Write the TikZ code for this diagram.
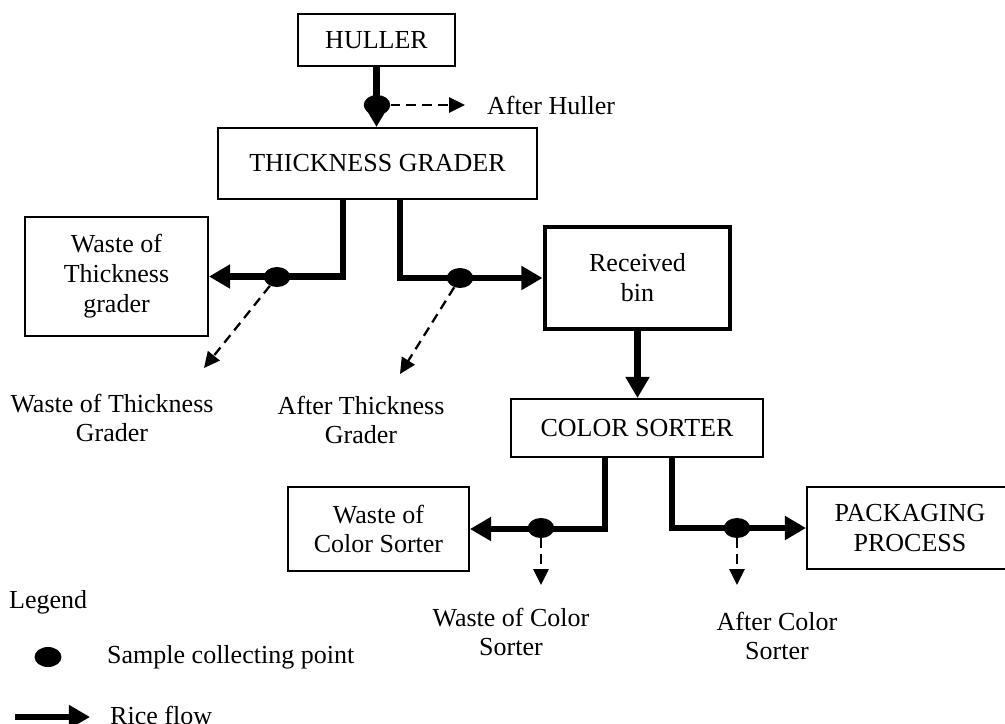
\documentclass[tikz,border=0pt]{standalone}
\usepackage{fontspec}
\setmainfont{Liberation Serif}
\usepackage{tikz}
\usetikzlibrary{shapes.geometric,arrows.meta,positioning,calc}

\begin{document}
\begin{tikzpicture}[x=0.02cm,y=-0.02cm,
  font=\fontsize{14.8}{17}\selectfont,
  unit/.style={draw,line width=1.1pt,align=center,inner sep=2pt},
  flow/.style={line width=3.8pt,-{Triangle[length=12pt,width=13pt]}},
  spot/.style={ellipse,fill,inner sep=0pt,minimum width=0.53cm,minimum height=0.4cm},
  probe/.style={line width=1.3pt,dash pattern=on 5.5pt off 3.5pt,-{Triangle[length=9pt,width=8.5pt]}}]
\useasboundingbox (0,0) rectangle (1005,724);

% process units
\node[unit,minimum width=3.14cm,minimum height=1.04cm] (huller) at (376.5,40) {HULLER};
\node[unit,minimum width=6.38cm,minimum height=1.42cm] (grader) at (377.5,163.5) {THICKNESS GRADER};
\node[unit,minimum width=3.66cm,minimum height=2.38cm] (wtg) at (116.5,276.5) {Waste of\\Thickness\\grader};
\node[unit,line width=2.8pt,minimum width=3.7cm,minimum height=2.04cm] (bin) at (637.5,278) {Received\\bin};
\node[unit,minimum width=5.04cm,minimum height=1.16cm] (sorter) at (637,428) {COLOR SORTER};
\node[unit,minimum width=3.62cm,minimum height=1.68cm] (wcs) at (378.5,529) {Waste of\\Color Sorter};
% runs off the right edge
\node[unit,minimum width=4.6cm,minimum height=1.64cm] (pack) at (922,528)
  {PACKAGING\hspace*{0.48cm}\\PROCESS\hspace*{0.48cm}};

% rice flow
\draw[flow] (huller.south) -- (huller.south |- grader.north);
\draw[flow] ([xshift=-0.69cm]grader.south) |- (wtg.east);
\draw[flow] ([xshift=0.45cm]grader.south) |- (bin.west);
\draw[flow] (bin.south) -- (bin.south |- sorter.north);
\draw[flow] ([xshift=-0.64cm]sorter.south) |- (wcs.east);
\draw[flow] ([xshift=0.7cm]sorter.south) |- (pack.west);

% sample points
\node[spot] (s0) at (377,105) {};
\node[spot] (s1) at (277,277) {};
\node[spot] (s2) at (460,278) {};
\node[spot] (s3) at (541,528) {};
\node[spot] (s4) at (737,528) {};

\coordinate (t0) at (465,105);
\coordinate (t1) at (204,368);
\coordinate (t2) at (400,374);
\coordinate (t3) at (541,585);
\coordinate (t4) at (737,585);
\draw[probe] (s0) -- (t0);
\draw[probe] (s1) -- (t1);
\draw[probe] (s2) -- (t2);
\draw[probe] (s3) -- (t3);
\draw[probe] (s4) -- (t4);

\node[anchor=west] (l0) at (481,105) {After Huller};
\node[align=center] (l1) at (112,418) {Waste of Thickness\\Grader};
\node[align=center] (l2) at (361,420) {After Thickness\\Grader};
\node[align=center] (l3) at (511,632) {Waste of Color\\Sorter};
\node[align=center] (l4) at (777,636) {After Color\\Sorter};

% legend
\node[anchor=west] (leg) at (3,602) {Legend};
\node[spot,minimum width=0.54cm] (k1) at (48,657) {};
\node[anchor=west] (k1txt) at (101,657) {Sample collecting point};
\coordinate (k2a) at (15,717);
\coordinate (k2b) at (90,717);
\draw[flow] (k2a) -- (k2b);
\node[anchor=west] (k2txt) at (104,715) {Rice flow};
\end{tikzpicture}
\end{document}
